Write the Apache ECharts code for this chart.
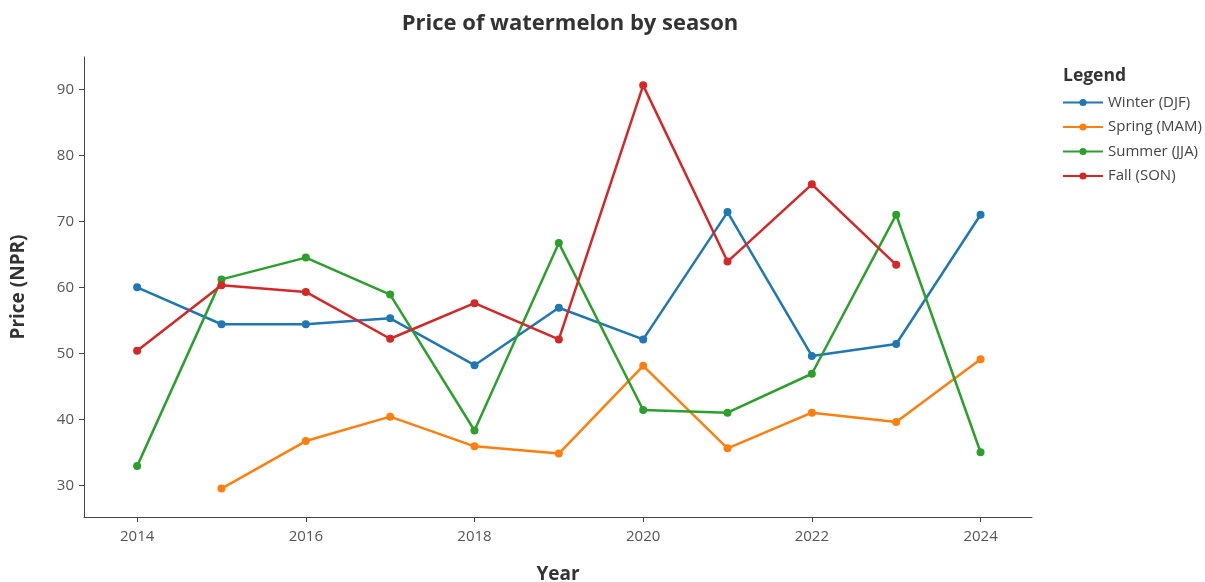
<!DOCTYPE html>
<html>
<head>
<meta charset="utf-8">
<title>Price of watermelon by season</title>
<script src="https://cdn.jsdelivr.net/npm/echarts@6/dist/echarts.min.js"></script>
<style>
    html, body { margin: 0; padding: 0; background: #fff; }
    #chart { width: 1205px; height: 582px; }
</style>
</head>
<body>
<div id="chart"></div>
<script>
// 数据
const years = [2014, 2015, 2016, 2017, 2018, 2019, 2020, 2021, 2022, 2023, 2024];
const winter = [60.0, 54.4, 54.4, 55.3, 48.2, 56.9, 52.1, 71.4, 49.6, 51.4, 71.0];
const spring = [null, 29.5, 36.7, 40.4, 35.9, 34.8, 48.1, 35.6, 41.0, 39.6, 49.1];
const summer = [32.9, 61.2, 64.5, 58.9, 38.3, 66.7, 41.4, 41.0, 46.9, 71.0, 35.0];
const fall = [50.4, 60.3, 59.3, 52.2, 57.6, 52.1, 90.6, 63.9, 75.6, 63.4, null];
const xTicks = [2014, 2016, 2018, 2020, 2022, 2024];
const yTicks = [30, 40, 50, 60, 70, 80, 90];

const seasons = [
    { name: 'Winter (DJF)', values: winter, color: '#1f77b4' },
    { name: 'Spring (MAM)', values: spring, color: '#ff7f0e' },
    { name: 'Summer (JJA)', values: summer, color: '#2ca02c' },
    { name: 'Fall (SON)', values: fall, color: '#d62728' }
];

const font = '"Open Sans", "Noto Sans", sans-serif';

const chart = echarts.init(document.getElementById('chart'));

const options = {
    animation: false,
    textStyle: { fontFamily: font },
    title: [
        {
            text: 'Price of watermelon by season',
            left: 565,
            top: 8,
            textAlign: 'center',
            textStyle: { fontFamily: font, fontSize: 22, fontWeight: 'bold', color: '#333' }
        },
        {
            text: 'Legend',
            left: 1058,
            top: 62,
            textStyle: { fontFamily: font, fontSize: 17.5, fontWeight: 'bold', color: '#333' }
        }
    ],
    legend: {
        orient: 'vertical',
        left: 1057,
        top: 90,
        itemWidth: 40,
        itemHeight: 9,
        itemGap: 9.5,
        textStyle: { fontFamily: font, fontSize: 15, color: '#444' },
        data: seasons.map((s) => s.name)
    },
    grid: {
        left: 84,
        right: 173,
        top: 57,
        bottom: 65,
        containLabel: false,
        outerBoundsMode: 'none'
    },
    xAxis: {
        type: 'value',
        min: 2013.37,
        max: 2024.61,
        name: 'Year',
        nameLocation: 'middle',
        nameGap: 48,
        nameTextStyle: { fontFamily: font, fontSize: 19, fontWeight: 'bold', color: '#333' },
        splitLine: { show: false },
        axisLine: { show: true, onZero: false, lineStyle: { color: '#444', width: 1 } },
        axisTick: { show: true, length: 5, lineStyle: { color: '#444' }, customValues: xTicks },
        axisLabel: {
            fontSize: 15, color: '#555', margin: 12, customValues: xTicks,
            formatter: (v) => String(v) // 不要千分位
        }
    },
    yAxis: {
        type: 'value',
        min: 25.19,
        max: 94.9,
        name: 'Price (NPR)',
        nameLocation: 'middle',
        nameGap: 56,
        nameTextStyle: { fontFamily: font, fontSize: 19, fontWeight: 'bold', color: '#333' },
        splitLine: { show: false },
        axisLine: { show: true, lineStyle: { color: '#444', width: 1 } },
        axisTick: { show: true, length: 5, lineStyle: { color: '#444' }, customValues: yTicks },
        axisLabel: { fontSize: 15, color: '#555', margin: 10, customValues: yTicks }
    },
    series: seasons.map((s) => ({
        name: s.name,
        type: 'line',
        symbol: 'circle',
        symbolSize: 8,
        color: s.color,
        lineStyle: { width: 2.5, color: s.color },
        itemStyle: { color: s.color },
        data: years
            .map((y, i) => [y, s.values[i]])
            .filter((d) => d[1] !== null)
    }))
};

chart.setOption(options);
</script>
</body>
</html>
